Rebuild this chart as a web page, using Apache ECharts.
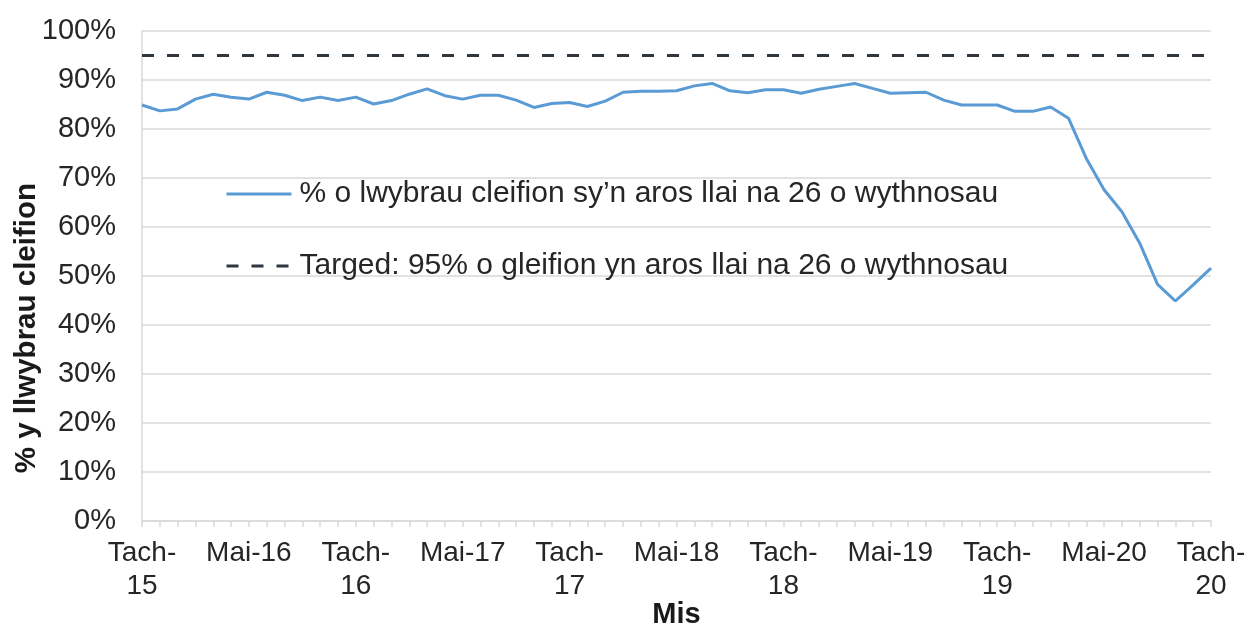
<!DOCTYPE html>
<html>
<head>
<meta charset="utf-8">
<script src="https://cdn.jsdelivr.net/npm/echarts@6/dist/echarts.min.js"></script>
<style>html,body{margin:0;padding:0;background:#fff}#c{width:1249px;height:626px}</style>
</head>
<body>
<div id="c"></div>
<script>
const months = ['Ion','Chwef','Maw','Ebr','Mai','Meh','Gorff','Awst','Medi','Hyd','Tach','Rhag'];
const categories = [];
for (let y = 15, m = 10; categories.length < 61; ) {
  categories.push(months[m] + '-' + y);
  m++; if (m === 12) { m = 0; y++; }
}
const pathwayPct = [
  84.9, 83.7, 84.1, 86.1, 87.1, 86.5, 86.1, 87.5, 86.9, 85.8,
  86.5, 85.8, 86.5, 85.1, 85.8, 87.1, 88.2, 86.8, 86.1, 86.9,
  86.9, 85.9, 84.4, 85.2, 85.4, 84.6, 85.7, 87.5, 87.7, 87.7,
  87.8, 88.8, 89.3, 87.8, 87.4, 88.0, 88.0, 87.3, 88.1, 88.7,
  89.3, 88.3, 87.3, 87.4, 87.5, 85.9, 84.9, 84.9, 84.9, 83.6,
  83.6, 84.5, 82.2, 74.0, 67.6, 63.1, 56.7, 48.3, 44.9, 48.2,
  51.6
];
const targetPct = categories.map(() => 95);
const seriesNames = [
  '% o lwybrau cleifion sy\u2019n aros llai na 26 o wythnosau',
  'Targed: 95% o gleifion yn aros llai na 26 o wythnosau'
];

const chart = echarts.init(document.getElementById('c'), null, {renderer: 'canvas'});
const font = 'Liberation Sans, Arial, sans-serif';
chart.setOption({
  animation: false,
  textStyle: {fontFamily: font},
  grid: {left: 142, right: 38, top: 31, bottom: 105, containLabel: false, outerBoundsMode: 'none'},
  legend: {
    orient: 'vertical',
    left: 225,
    top: 178,
    padding: 0,
    itemWidth: 65,
    itemHeight: 14,
    itemGap: 40,
    itemStyle: {opacity: 0, borderWidth: 0},
    lineStyle: {width: 3},
    textStyle: {fontSize: 30, lineHeight: 32, color: '#262626', fontFamily: font, padding: [0, 0, 0, 3]},
    data: [seriesNames[0], seriesNames[1]]
  },
  xAxis: {
    type: 'category',
    data: categories,
    boundaryGap: false,
    name: 'Mis',
    nameLocation: 'middle',
    nameGap: 79,
    nameMoveOverlap: false,
    nameTextStyle: {fontSize: 29, fontWeight: 'bold', color: '#1a1a1a', fontFamily: font},
    axisLine: {lineStyle: {color: '#d9d9d9', width: 1.5}},
    axisTick: {show: true, interval: 0, length: 6, lineStyle: {color: '#d9d9d9', width: 1.5}},
    axisLabel: {
      interval: 5,
      fontSize: 28,
      color: '#262626',
      margin: 16,
      lineHeight: 33,
      fontFamily: font,
      formatter: v => v.startsWith('Tach') ? v.replace('-', '-\n') : v
    },
    splitLine: {show: false}
  },
  yAxis: {
    type: 'value',
    min: 0,
    max: 100,
    interval: 10,
    axisLine: {show: true, lineStyle: {color: '#d9d9d9', width: 1.5}},
    axisTick: {show: false},
    axisLabel: {fontSize: 29, color: '#262626', margin: 26, fontFamily: font, formatter: v => v + '%'},
    splitLine: {lineStyle: {color: '#d9d9d9', width: 1.5}}
  },
  graphic: [{
    type: 'text',
    left: 12,
    top: 183,
    rotation: Math.PI / 2,
    style: {text: '% y llwybrau cleifion', font: 'bold 29.5px ' + font, fill: '#1a1a1a'}
  }],
  series: [
    {
      name: seriesNames[0],
      type: 'line',
      data: pathwayPct,
      showSymbol: false,
      symbol: 'none',
      lineStyle: {color: '#5b9bd5', width: 3},
      itemStyle: {color: '#5b9bd5'}
    },
    {
      name: seriesNames[1],
      type: 'line',
      data: targetPct,
      showSymbol: false,
      symbol: 'none',
      lineStyle: {color: '#2e3640', width: 3, type: [12, 13]},
      itemStyle: {color: '#2e3640'}
    }
  ]
});
</script>
</body>
</html>
